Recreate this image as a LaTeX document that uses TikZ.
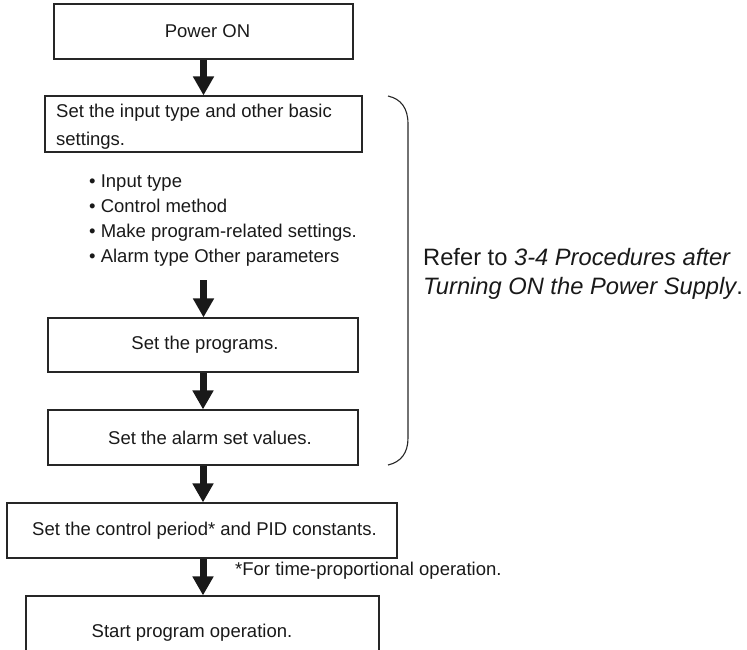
\documentclass[tikz,border=0pt]{standalone}
\usepackage{fontspec}
\setmainfont{Liberation Sans}
\usetikzlibrary{arrows.meta}
\begin{document}
\begin{tikzpicture}[x=1pt,y=-1pt,
  box/.style={draw=black!85, line width=1.2pt, inner sep=0pt, font=\fontsize{18.5}{22}\selectfont, text=black!90},
  bigarrow/.style={draw=black!90, line width=7pt, -{Triangle[length=19pt,width=20pt]}},
  lbl/.style={inner sep=0pt, font=\fontsize{18.5}{22}\selectfont, text=black!90, anchor=base west},
  reftext/.style={inner sep=0pt, font=\fontsize{23.7}{28}\selectfont, text=black!90, anchor=base west},
  bracket/.style={draw=black!85, line width=1.1pt}]
\useasboundingbox (0,0) rectangle (747,649);
\clip (0,0) rectangle (747,649);
% boxes
\node[box, minimum width=299pt, minimum height=55pt] (pw) at (203.5,31.5) {\hspace*{8pt}Power ON};
\node[box, minimum width=317pt, minimum height=56pt] (basic) at (203.5,124) {};
\node[lbl] (bt1) at (56,117) {Set the input type and other basic};
\node[lbl] (bt2) at (56,145) {settings.};
\node[lbl] (b1) at (89,187) {\textbullet\ Input type};
\node[lbl] (b2) at (89,212) {\textbullet\ Control method};
\node[lbl] (b3) at (89,237) {\textbullet\ Make program-related settings.};
\node[lbl] (b4) at (89,262) {\textbullet\ Alarm type Other parameters};
\coordinate (lst) at (203.5,280);
\node[box, minimum width=310pt, minimum height=54pt] (prog) at (203,345) {\hspace*{4pt}Set the programs.};
\node[box, minimum width=310pt, minimum height=55pt] (alarm) at (203,437.5) {\hspace*{14pt}Set the alarm set values.};
\node[box, minimum width=390pt, minimum height=55pt] (ctrl) at (202,530.5) {\hspace*{5pt}Set the control period* and PID constants.};
\node[box, minimum width=353pt, minimum height=80pt] (start) at (202.5,636) {\raisebox{11pt}{Start program operation.}\hspace*{21pt}};
% arrows
\draw[bigarrow] (pw.south) -- (basic.north);
\draw[bigarrow] (lst) -- (lst |- prog.north);
\draw[bigarrow] (prog.south) -- (alarm.north);
\draw[bigarrow] (alarm.south) -- (alarm.south |- ctrl.north);
\draw[bigarrow] (ctrl.south -| alarm.south) -- (alarm.south |- start.north);
% footnote
\node[lbl] (fn) at (235,575) {*For time-proportional operation.};
% bracket
\coordinate (bt) at (388,96);
\coordinate (bb) at (388,465);
\draw[bracket] (bt) .. controls (401,99) and (408,108) .. (408,124) -- (408,438) .. controls (408,453) and (401,462) .. (bb);
\node[reftext] (r1) at (423,265) {Refer to \textit{3-4 Procedures after}};
\node[reftext] (r2) at (423,294) {\textit{Turning ON the Power Supply}.};
\end{tikzpicture}
\end{document}
